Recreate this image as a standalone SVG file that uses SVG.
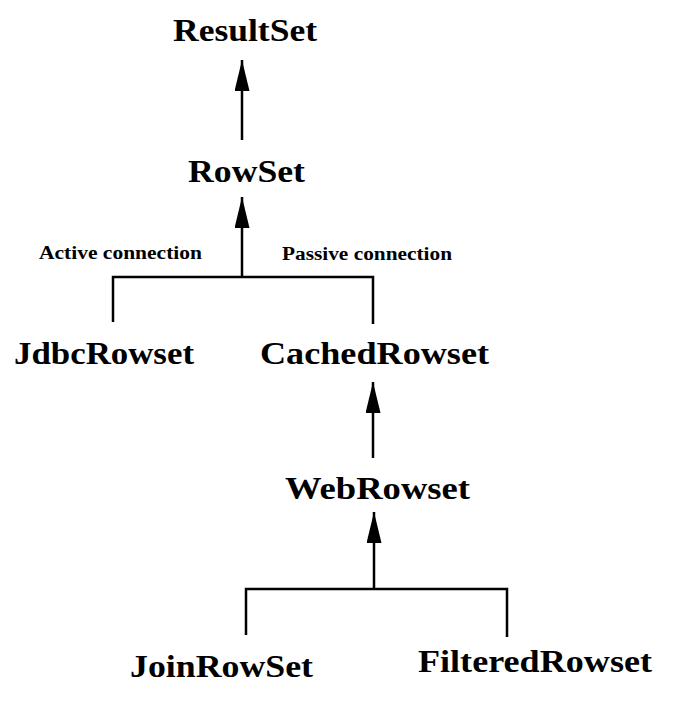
<svg xmlns="http://www.w3.org/2000/svg" width="678" height="720" viewBox="0 0 678 720">
<style>
.t{font-family:"Liberation Serif","Times New Roman",serif;font-weight:bold;font-size:31px;fill:#000}
.s{font-family:"Liberation Serif","Times New Roman",serif;font-weight:bold;font-size:18px;fill:#000}
.c{stroke:#000;stroke-width:2.5;fill:none}
</style>
<defs>
<marker id="ah" markerUnits="userSpaceOnUse" viewBox="0 0 31 15" markerWidth="31" markerHeight="15" refX="31" refY="7.5" orient="auto">
<path d="M0,0 L31,7.5 L0,15 z" fill="#000"/>
</marker>
</defs>
<rect width="678" height="720" fill="#fff"/>
<g id="connectors">
<line class="c" x1="242" y1="140" x2="242" y2="60" marker-end="url(#ah)"/>
<line class="c" x1="242" y1="277" x2="242" y2="197" marker-end="url(#ah)"/>
<polyline class="c" points="113,322 113,277 373,277 373,324"/>
<line class="c" x1="373" y1="458" x2="373" y2="382" marker-end="url(#ah)"/>
<line class="c" x1="374" y1="589" x2="374" y2="512" marker-end="url(#ah)"/>
<polyline class="c" points="246,635 246,589 507,589 507,637"/>
</g>
<g id="labels">
<text class="s" x="39" y="259" textLength="163" lengthAdjust="spacingAndGlyphs">Active connection</text>
<text class="s" x="282" y="260" textLength="170" lengthAdjust="spacingAndGlyphs">Passive connection</text>
</g>
<g id="ResultSet"><text class="t" x="173" y="41" textLength="144" lengthAdjust="spacingAndGlyphs">ResultSet</text></g>
<g id="RowSet"><text class="t" x="188" y="182" textLength="117" lengthAdjust="spacingAndGlyphs">RowSet</text></g>
<g id="JdbcRowset"><text class="t" x="14" y="364" textLength="180" lengthAdjust="spacingAndGlyphs">JdbcRowset</text></g>
<g id="CachedRowset"><text class="t" x="260" y="364" textLength="229" lengthAdjust="spacingAndGlyphs">CachedRowset</text></g>
<g id="WebRowset"><text class="t" x="285" y="499" textLength="185" lengthAdjust="spacingAndGlyphs">WebRowset</text></g>
<g id="JoinRowSet"><text class="t" x="130" y="677" textLength="183" lengthAdjust="spacingAndGlyphs">JoinRowSet</text></g>
<g id="FilteredRowset"><text class="t" x="418" y="672" textLength="234" lengthAdjust="spacingAndGlyphs">FilteredRowset</text></g>
</svg>
